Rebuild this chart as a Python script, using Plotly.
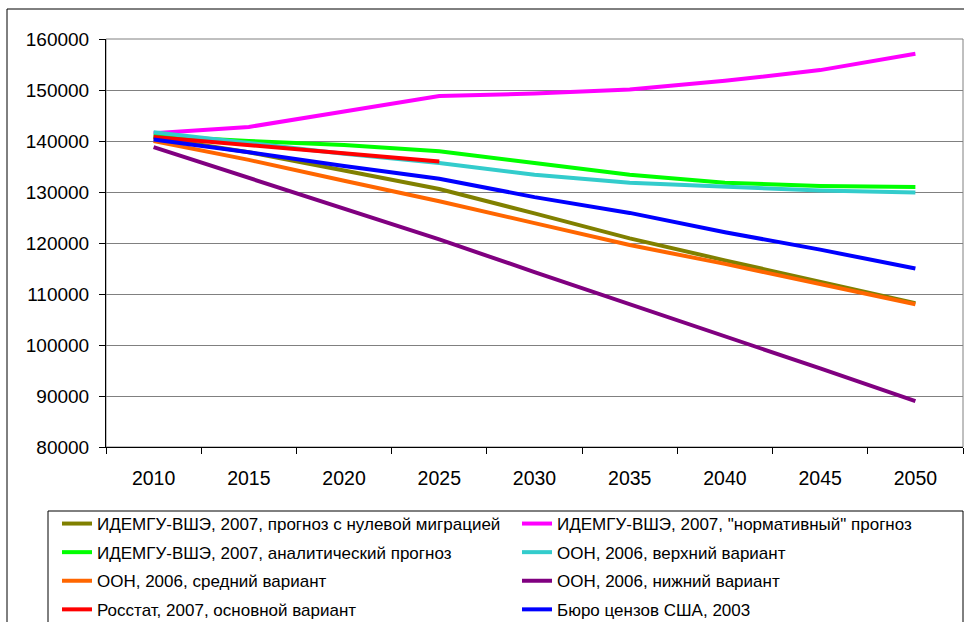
import plotly.graph_objects as go

years = ["2010", "2015", "2020", "2025", "2030", "2035", "2040", "2045", "2050"]

zero_migration = [140700, 137800, 134200, 130600, 125800, 120900, 116600, 112400, 108200]
normative = [141500, 142750, 145800, 148800, 149300, 150100, 151800, 153900, 157100]
analytic = [141000, 140000, 139200, 138000, 135700, 133400, 131800, 131200, 131000]
un_high = [141700, 139600, 137500, 135700, 133400, 131800, 131000, 130300, 129900]
un_mid = [140000, 136300, 132200, 128200, 123900, 119600, 115900, 111900, 108000]
un_low = [138800, 132800, 126800, 120700, 114300, 108000, 101900, 95400, 89000]
rosstat_years = years[:4]
rosstat = [140800, 139200, 137600, 136000]
census = [140300, 137800, 135100, 132600, 129000, 125900, 122100, 118700, 115000]

names = [
    "ИДЕМГУ-ВШЭ, 2007, прогноз с нулевой миграцией",
    "ИДЕМГУ-ВШЭ, 2007, \"нормативный\" прогноз",
    "ИДЕМГУ-ВШЭ, 2007, аналитический прогноз",
    "ООН, 2006, верхний вариант",
    "ООН, 2006, средний вариант",
    "ООН, 2006, нижний вариант",
    "Росстат, 2007, основной вариант",
    "Бюро цензов США, 2003",
]
colors = ["#808000", "#FF00FF", "#00FF00", "#33CCCC", "#FF6600", "#800080", "#FF0000", "#0000FF"]
series = [
    (years, zero_migration), (years, normative), (years, analytic), (years, un_high),
    (years, un_mid), (years, un_low), (rosstat_years, rosstat), (years, census),
]
legends = ["legend", "legend2", "legend", "legend2", "legend", "legend2", "legend", "legend2"]

W, H = 964, 622
L, R, T, B = 106, 1, 39, 175
pw, ph = W - L - R, H - T - B

def px(x):
    return (x - L) / pw

def py(y):
    return (H - B - y) / ph

fig = go.Figure()
for i, ((xs, ys), nm, c, lg) in enumerate(zip(series, names, colors, legends)):
    fig.add_trace(go.Scatter(
        x=xs, y=ys, name=nm, mode="lines",
        line=dict(color=c, width=4),
        legend=lg, legendgroup="g%d" % i,
    ))

font = "Liberation Sans, Arial, sans-serif"

fig.update_layout(
    width=W, height=H,
    margin=dict(l=L, r=R, t=T, b=B, autoexpand=False),
    paper_bgcolor="white", plot_bgcolor="white",
    font=dict(family=font, color="black"),
    showlegend=True,
    xaxis=dict(
        type="category", range=[-0.5, 8.5], tickson="boundaries",
        ticks="outside", ticklen=6, tickcolor="black", tickwidth=1,
        showline=True, linecolor="black", linewidth=1,
        showgrid=False, zeroline=False,
        tickfont=dict(size=19.5, family=font),
        ticklabelstandoff=14,
    ),
    yaxis=dict(
        range=[80000, 160000], dtick=10000, tickformat="d",
        ticks="outside", ticklen=6, tickcolor="black", tickwidth=1,
        showline=True, linecolor="black", linewidth=1,
        showgrid=True, gridcolor="#808080", gridwidth=1, zeroline=False,
        tickfont=dict(size=19, family=font),
        ticklabelstandoff=6,
    ),
    legend=dict(
        orientation="v", x=px(57), y=py(506), xanchor="left", yanchor="top",
        bgcolor="rgba(0,0,0,0)", borderwidth=0, tracegroupgap=3.5,
        font=dict(size=17, family=font), itemwidth=30,
    ),
    legend2=dict(
        orientation="v", x=px(517), y=py(506), xanchor="left", yanchor="top",
        bgcolor="rgba(0,0,0,0)", borderwidth=0, tracegroupgap=3.5,
        font=dict(size=17, family=font), itemwidth=30,
    ),
    shapes=[
        dict(type="rect", xref="paper", yref="paper", x0=0, x1=1, y0=0, y1=1,
             line=dict(color="#808080", width=1), layer="below"),
        dict(type="rect", xref="paper", yref="paper", x0=px(7), x1=px(975), y0=py(640), y1=py(9),
             line=dict(color="black", width=1), fillcolor="rgba(0,0,0,0)"),
        dict(type="rect", xref="paper", yref="paper", x0=px(48), x1=px(963), y0=py(640), y1=py(511),
             line=dict(color="black", width=1), fillcolor="rgba(0,0,0,0)"),
    ],
)

fig.write_html(
    "out.html",
    config={"displayModeBar": False},
    post_script="document.body.style.margin='0';document.body.style.overflow='hidden';",
)
